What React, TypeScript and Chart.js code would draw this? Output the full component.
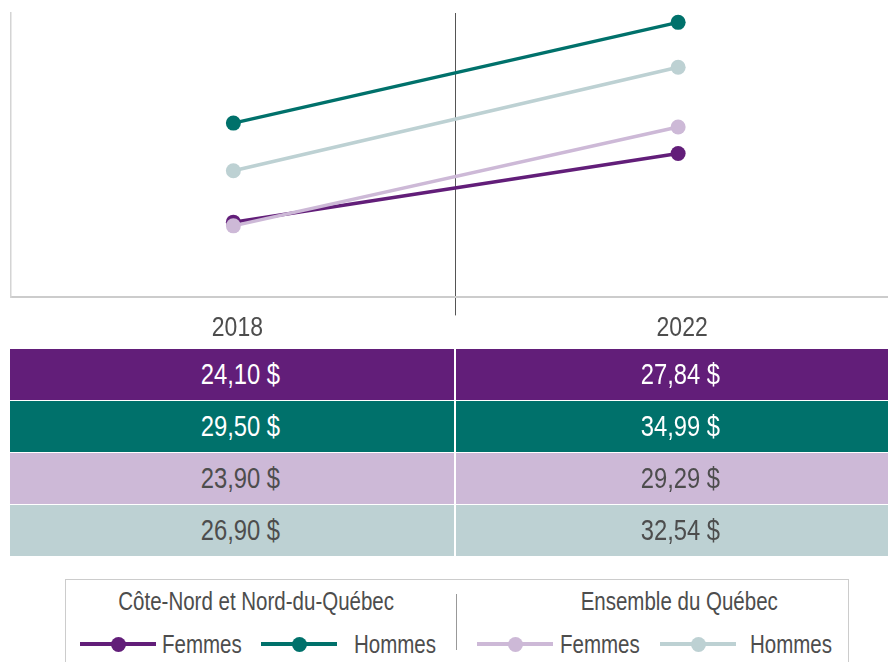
import React, { useEffect, useRef } from "react";
import { Chart, registerables } from "chart.js";

Chart.register(...registerables);

const years = ["2018", "2022"];
const femmesCN = [24.1, 27.84];
const hommesCN = [29.5, 34.99];
const femmesQC = [23.9, 29.29];
const hommesQC = [26.9, 32.54];
const tableLabels = [
  ["24,10 $", "27,84 $"],
  ["29,50 $", "34,99 $"],
  ["23,90 $", "29,29 $"],
  ["26,90 $", "32,54 $"],
];
const groupTitles = ["Côte-Nord et Nord-du-Québec", "Ensemble du Québec"];
const seriesNames = ["Femmes", "Hommes", "Femmes", "Hommes"];

const PURPLE = "#621e79";
const TEAL = "#00716b";
const LAVENDER = "#cdb9d7";
const LIGHTTEAL = "#bdd1d3";
const TEXT = "#4d4d4d";
const FONT = "'Liberation Sans', Arial, sans-serif";
const NARROW = 0.82;

const rowColors = [PURPLE, TEAL, LAVENDER, LIGHTTEAL];
const rowText = ["#ffffff", "#ffffff", TEXT, TEXT];

function Narrow({ children, origin }: { children: React.ReactNode; origin: string }) {
  return (
    <span style={{ display: "inline-block", transform: `scaleX(${NARROW})`, transformOrigin: origin }}>
      {children}
    </span>
  );
}

function LegendItem({ x, color, label, textX }: { x: number; color: string; label: string; textX: number }) {
  return (
    <>
      <div style={{ position: "absolute", left: x, top: 642, width: 76, height: 3.5, background: color }} />
      <div
        style={{
          position: "absolute",
          left: x + 38 - 7.5,
          top: 636.5,
          width: 15,
          height: 15,
          borderRadius: "50%",
          background: color,
        }}
      />
      <div
        style={{
          position: "absolute",
          left: textX,
          top: 629,
          fontFamily: FONT,
          fontSize: 25,
          lineHeight: "30px",
          color: TEXT,
          whiteSpace: "nowrap",
        }}
      >
        <Narrow origin="left center">{label}</Narrow>
      </div>
    </>
  );
}

const narrowTicks = {
  id: "narrowTicks",
  afterDraw(chart: any) {
    const scale = chart.scales.x;
    const ctx = chart.ctx;
    ctx.save();
    ctx.fillStyle = TEXT;
    ctx.font = `28px ${FONT}`;
    ctx.textAlign = "center";
    ctx.textBaseline = "alphabetic";
    scale.ticks.forEach((_t: any, i: number) => {
      const x = scale.getPixelForTick(i);
      const label = scale.getLabelForValue(scale.ticks[i].value);
      ctx.save();
      ctx.translate(x + 4, scale.top + 39);
      ctx.scale(NARROW, 1);
      ctx.fillText(label, 0, 0);
      ctx.restore();
    });
    ctx.restore();
  },
};

export default function App() {
  const canvasRef = useRef<HTMLCanvasElement | null>(null);

  useEffect(() => {
    if (!canvasRef.current) return;
    const mk = (label: string, data: number[], color: string, order: number) => ({
      label,
      data,
      borderColor: color,
      backgroundColor: color,
      pointBackgroundColor: color,
      pointBorderColor: color,
      pointBorderWidth: 0,
      pointRadius: 7.5,
      borderWidth: 3.5,
      tension: 0,
      order,
    });
    const chart = new Chart(canvasRef.current, {
      type: "line",
      data: {
        labels: years,
        datasets: [
          mk("Femmes CN", femmesCN, PURPLE, 1),
          mk("Hommes CN", hommesCN, TEAL, 2),
          mk("Femmes QC", femmesQC, LAVENDER, 0),
          mk("Hommes QC", hommesQC, LIGHTTEAL, 3),
        ],
      },
      options: {
        responsive: false,
        animation: false,
        devicePixelRatio: 1,
        layout: { padding: { top: 13, left: 11, right: 0, bottom: 1 } },
        plugins: { legend: { display: false }, tooltip: { enabled: false }, title: { display: false } },
        scales: {
          x: {
            type: "category",
            offset: true,
            grid: {
              offset: true,
              display: true,
              drawOnChartArea: true,
              drawTicks: true,
              tickLength: 18,
              lineWidth: 1,
              color: (ctx: any) => (ctx.index === 1 ? "#555555" : "rgba(0,0,0,0)"),
            },
            border: { display: true, color: "#cccccc", width: 2 },
            ticks: {
              color: "rgba(0,0,0,0)",
              font: { family: FONT, size: 28 },
              padding: 0,
              maxRotation: 0,
            },
          },
          y: {
            min: 20,
            max: 35.5,
            grid: { display: false, drawTicks: false },
            border: { display: true, color: "#d4d4d4", width: 1.5 },
            ticks: { display: false },
          },
        },
      },
      plugins: [narrowTicks],
    });
    return () => chart.destroy();
  }, []);

  return (
    <div
      style={{
        position: "absolute",
        left: 0,
        top: 0,
        width: 888,
        height: 662,
        overflow: "hidden",
        background: "#ffffff",
      }}
    >
      <canvas
        ref={canvasRef}
        width={908}
        height={350}
        style={{ position: "absolute", left: 0, top: 0, width: 908, height: 350 }}
      />
      {tableLabels.map((row, r) => (
        <React.Fragment key={r}>
          {row.map((txt, c) => (
            <div
              key={c}
              style={{
                position: "absolute",
                left: c === 0 ? 10 : 456,
                top: 349 + r * 52,
                width: c === 0 ? 444 : 432,
                height: 51,
                background: rowColors[r],
                color: rowText[r],
                fontFamily: FONT,
                fontSize: 29,
                lineHeight: "51px",
                textAlign: "center",
                paddingLeft: 16,
                boxSizing: "border-box",
                whiteSpace: "nowrap",
              }}
            >
              <Narrow origin="center center">{txt}</Narrow>
            </div>
          ))}
        </React.Fragment>
      ))}
      <div
        style={{
          position: "absolute",
          left: 65,
          top: 579,
          width: 784,
          height: 120,
          border: "1.5px solid #cccccc",
          boxSizing: "border-box",
        }}
      />
      <div
        style={{
          position: "absolute",
          left: 56,
          top: 586,
          width: 400,
          textAlign: "center",
          fontFamily: FONT,
          fontSize: 25,
          lineHeight: "30px",
          color: TEXT,
          whiteSpace: "nowrap",
        }}
      >
        <Narrow origin="center center">{groupTitles[0]}</Narrow>
      </div>
      <div
        style={{
          position: "absolute",
          left: 479,
          top: 586,
          width: 400,
          textAlign: "center",
          fontFamily: FONT,
          fontSize: 25,
          lineHeight: "30px",
          color: TEXT,
          whiteSpace: "nowrap",
        }}
      >
        <Narrow origin="center center">{groupTitles[1]}</Narrow>
      </div>
      <div style={{ position: "absolute", left: 456, top: 594, width: 1, height: 56, background: "#999999" }} />
      <LegendItem x={80} color={PURPLE} label={seriesNames[0]} textX={162} />
      <LegendItem x={261} color={TEAL} label={seriesNames[1]} textX={354} />
      <LegendItem x={477} color={LAVENDER} label={seriesNames[2]} textX={560} />
      <LegendItem x={660} color={LIGHTTEAL} label={seriesNames[3]} textX={750} />
    </div>
  );
}
